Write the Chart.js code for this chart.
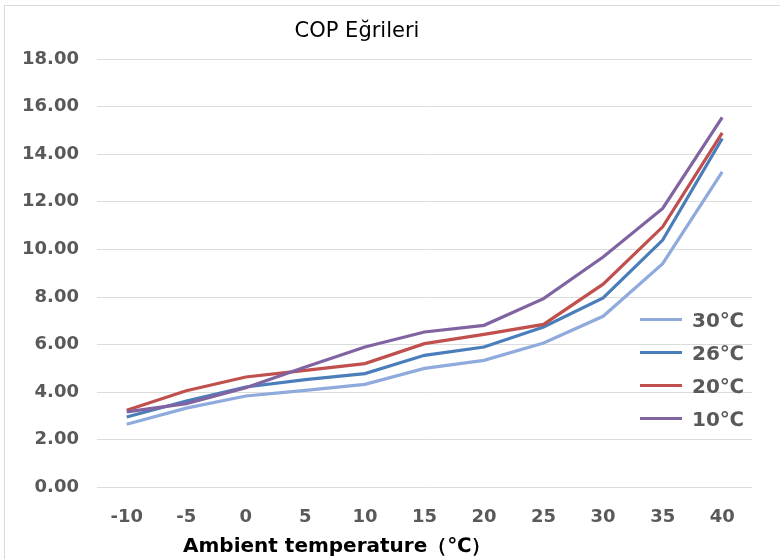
<!DOCTYPE html>
<html>
<head>
<meta charset="utf-8">
<script src="https://cdn.jsdelivr.net/npm/chart.js@4.4.0/dist/chart.umd.min.js"></script>
<style>
  html, body { margin: 0; padding: 0; background: #fff; }
  #wrap { position: relative; width: 780px; height: 559px; }
  #frame { position: absolute; left: 4px; top: 5px; right: 0; bottom: 0; border-left: 1px solid #d9d9d9; border-top: 1px solid #d9d9d9; }
  #title { position: absolute; left: 257px; top: 18px; width: 200px; text-align: center; font: 21px "DejaVu Sans"; color: #000; }
  #xTitle { position: absolute; left: 183px; top: 532px; font: bold 20px "DejaVu Sans"; color: #000; white-space: nowrap; }
  #legend { position: absolute; left: 640px; top: 303px; }
  .item { display: flex; align-items: center; height: 33px; }
  .swatch { width: 42px; height: 3px; margin-right: 10px; }
  .item span { font: bold 20px "DejaVu Sans"; color: #595959; }
</style>
</head>
<body>
<div id="wrap">
  <div id="frame"></div>
  <canvas id="copChart"></canvas>
  <div id="title">COP Eğrileri</div>
  <div id="xTitle">Ambient temperature（℃）</div>
  <div id="legend"></div>
</div>
<script>
// ambient temperatures (x categories)
const temps = ['-10', '-5', '0', '5', '10', '15', '20', '25', '30', '35', '40'];

// COP values
const cop30 = [2.65, 3.33, 3.84, 4.08, 4.33, 5.00, 5.34, 6.07, 7.19, 9.40, 13.26];
const cop26 = [2.96, 3.63, 4.22, 4.53, 4.78, 5.55, 5.90, 6.74, 7.96, 10.39, 14.66];
const cop20 = [3.24, 4.06, 4.64, 4.92, 5.20, 6.04, 6.43, 6.85, 8.54, 10.95, 14.90];
const cop10 = [3.17, 3.52, 4.19, 5.06, 5.90, 6.53, 6.81, 7.93, 9.68, 11.72, 15.55];

const seriesLabels = ['30℃', '26℃', '20℃', '10℃'];
const seriesColors = ['#8faadc', '#4a7ebb', '#c0504d', '#8064a2'];

// y axis: 0.00 .. 18.00 every 2
const yMin = 0, yMax = 18, yStep = 2;

function makeSet(i, values) {
  return {
    label: seriesLabels[i],
    data: values,
    borderColor: seriesColors[i],
    backgroundColor: seriesColors[i],
    borderWidth: 3.2,
    pointRadius: 0,
    tension: 0,
    order: 4 - i   // later series drawn on top, like the original
  };
}

function buildLegend(chart) {
  var box = document.getElementById('legend');
  box.innerHTML = '';
  chart.data.datasets.forEach(function(ds) {
    var item = document.createElement('div');
    item.className = 'item';
    var sw = document.createElement('div');
    sw.className = 'swatch';
    sw.style.background = ds.borderColor;
    var txt = document.createElement('span');
    txt.textContent = ds.label;
    item.appendChild(sw);
    item.appendChild(txt);
    box.appendChild(item);
  });
}

window.onload = function() {
  var ctx = document.getElementById('copChart').getContext('2d');
  var chart = new Chart(ctx, {
    type: 'line',
    data: {
      labels: temps,
      datasets: [makeSet(0, cop30), makeSet(1, cop26), makeSet(2, cop20), makeSet(3, cop10)]
    },
    options: {
      responsive: true,
      maintainAspectRatio: false,
      animation: false,
      layout: { padding: { left: 4, top: 59, right: 28, bottom: 12 } },
      plugins: {
        legend: { display: false },
        title: { display: false },
        tooltip: { enabled: false }
      },
      scales: {
        x: {
          offset: true,
          grid: { display: false, drawTicks: false },
          border: { display: false },
          ticks: {
            padding: 19,
            color: '#595959',
            font: { family: 'DejaVu Sans', size: 18, weight: 'bold' }
          }
        },
        y: {
          min: yMin,
          max: yMax,
          grid: { color: '#dcdcdc', lineWidth: 1, drawTicks: false },
          border: { display: false },
          ticks: {
            stepSize: yStep,
            padding: 18,
            color: '#595959',
            font: { family: 'DejaVu Sans', size: 18, weight: 'bold' },
            callback: function(v) { return Number(v).toFixed(2); }
          }
        }
      }
    }
  });
  buildLegend(chart);
};
</script>
</body>
</html>
